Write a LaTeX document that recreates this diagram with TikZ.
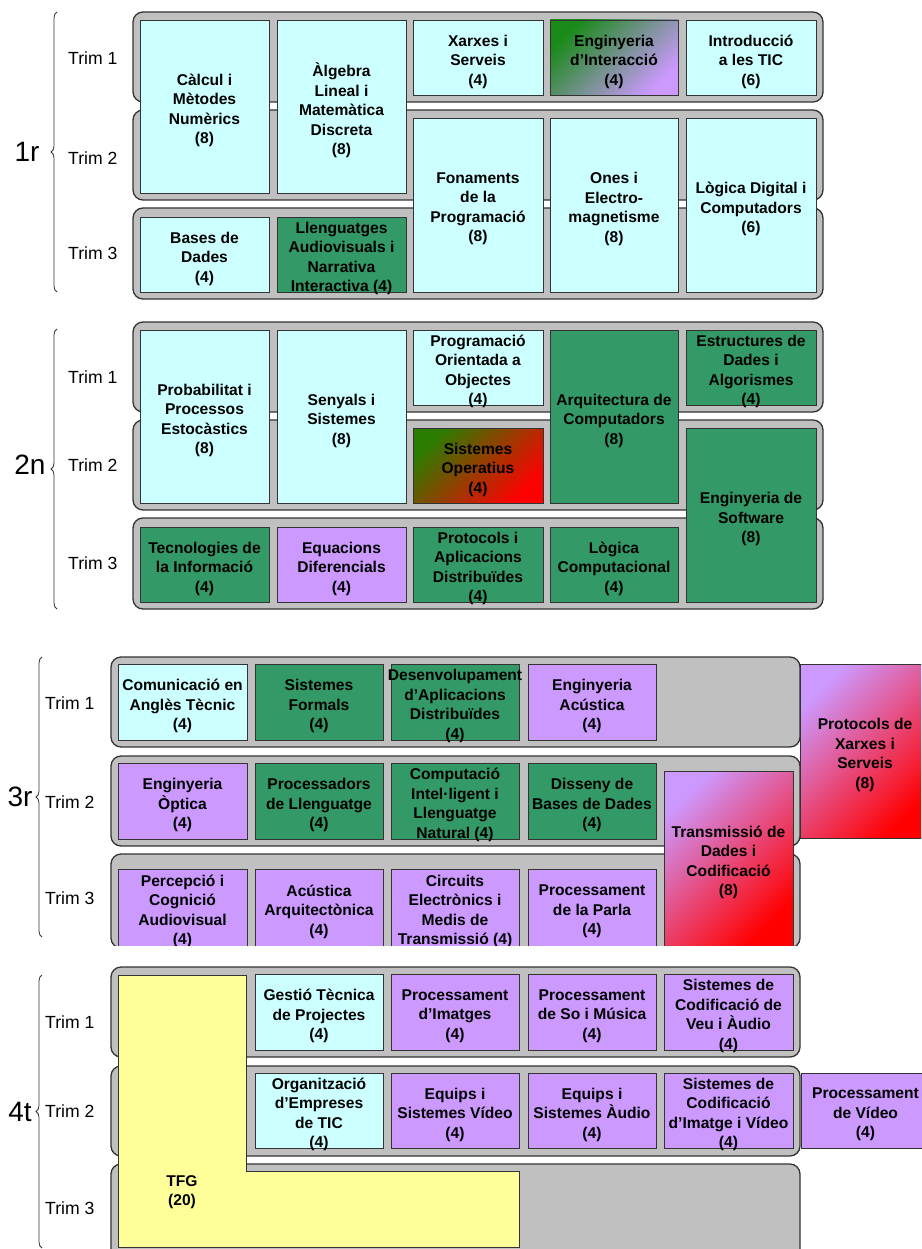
\documentclass[tikz,border=0pt]{standalone}
\usepackage{fontspec}
\setmainfont{Liberation Sans}
\usetikzlibrary{decorations.pathreplacing}
\definecolor{cyanbox}{HTML}{CCFFFF}
\definecolor{greenbox}{HTML}{339966}
\definecolor{purplebox}{HTML}{CC99FF}
\definecolor{yellowbox}{HTML}{FFFF99}
\definecolor{bandgray}{HTML}{C0C0C0}
\definecolor{edge}{HTML}{333333}
\definecolor{gradgreen}{HTML}{1A8A1A}
\definecolor{sogreen}{HTML}{2A7D00}
\definecolor{gradred}{HTML}{FF0000}
\tikzset{
 band/.style={draw=edge, line width=1.3pt, fill=bandgray, rounded corners=10pt},
 box/.style={draw=edge, line width=0.9pt, inner sep=0pt, outer sep=0pt, rectangle},
 cy/.style={fill=cyanbox}, gr/.style={fill=greenbox}, pu/.style={fill=purplebox},
 gp/.style={top color=gradgreen, bottom color=purplebox, shading angle=45},
 gro/.style={top color=sogreen, bottom color=gradred, shading angle=45},
 pr/.style={top color=purplebox, bottom color=gradred, shading angle=45},
 txt/.style={align=center, inner sep=0pt, font=\bfseries\fontsize{15.6}{19.5}\selectfont},
 trimlab/.style={anchor=west, inner sep=0pt, font=\fontsize{17.6}{20}\selectfont},
 yearlab/.style={inner sep=0pt, font=\fontsize{28}{30}\selectfont},
 yearbrace/.style={draw=edge, line width=0.8pt, decorate, decoration={brace, amplitude=6pt}},
}
\newcommand\course[7]{%
 \node[box,#6,minimum width={#4-#2},minimum height={#5-#3}] (#1) at ({(#2+#4)/2},{(#3+#5)/2}) {};
 \node[txt,yshift=-4pt] (#1-t) at (#1.center) {#7};}
\begin{document}
\begin{tikzpicture}[x=1pt,y=-1pt]
\useasboundingbox (0,0) rectangle (921,1249);
\fill[white] (0,0) rectangle (921,1249);

% ===== Year 1 =====
\node[yearlab] (y1) at (27,152) {1r};
\draw[yearbrace] (57,292) -- (57,12);
\node[trimlab] (y1t1) at (68,58) {Trim 1};
\node[trimlab] (y1t2) at (68,158) {Trim 2};
\node[trimlab] (y1t3) at (68,253) {Trim 3};
\draw[band] (133,12) rectangle (823,102);
\draw[band] (133,110) rectangle (823,200);
\draw[band] (133,208) rectangle (823,299);
\course{calc}{140}{20}{269}{193}{cy}{Càlcul i\\Mètodes\\Numèrics\\(8)}
\course{alg}{277}{20}{406}{193}{cy}{Àlgebra\\Lineal i\\Matemàtica\\Discreta\\(8)}
\course{xis}{413}{20}{543}{95}{cy}{Xarxes i\\Serveis\\(4)}
\course{eint}{550}{20}{678}{95}{gp}{Enginyeria\\d’Interacció\\(4)}
\course{itic}{686}{20}{816}{95}{cy}{Introducció\\a les TIC\\(6)}
\course{fon}{413}{118}{543}{292}{cy}{Fonaments\\de la\\Programació\\(8)}
\course{ones}{550}{118}{678}{292}{cy}{Ones i\\Electro-\\magnetisme\\(8)}
\course{ldc}{686}{118}{816}{292}{cy}{Lògica Digital i\\Computadors\\(6)}
\course{bd}{140}{217}{269}{292}{cy}{Bases de\\Dades\\(4)}
\course{llav}{277}{217}{406}{292}{gr}{Llenguatges\\Audiovisuals i\\Narrativa\\Interactiva (4)}

% ===== Year 2 =====
\node[yearlab] (y2) at (30,465) {2n};
\draw[yearbrace] (57,609) -- (57,329);
\node[trimlab] (y2t1) at (68,377) {Trim 1};
\node[trimlab] (y2t2) at (68,465) {Trim 2};
\node[trimlab] (y2t3) at (68,563) {Trim 3};
\draw[band] (133,322) rectangle (823,412);
\draw[band] (133,420) rectangle (823,510);
\draw[band] (133,518) rectangle (823,609);
\course{prob}{140}{330}{269}{503}{cy}{Probabilitat i\\Processos\\Estocàstics\\(8)}
\course{sis}{277}{330}{406}{503}{cy}{Senyals i\\Sistemes\\(8)}
\course{poo}{413}{330}{543}{405}{cy}{Programació\\Orientada a\\Objectes\\(4)}
\course{arq}{550}{330}{678}{503}{gr}{Arquitectura de\\Computadors\\(8)}
\course{eda}{686}{330}{816}{405}{gr}{Estructures de\\Dades i\\Algorismes\\(4)}
\course{so}{413}{428}{543}{503}{gro}{Sistemes\\Operatius\\(4)}
\course{esw}{686}{428}{816}{602}{gr}{Enginyeria de\\Software\\(8)}
\course{ti}{140}{527}{269}{602}{gr}{Tecnologies de\\la Informació\\(4)}
\course{eqd}{277}{527}{406}{602}{pu}{Equacions\\Diferencials\\(4)}
\course{pad}{413}{527}{543}{602}{gr}{Protocols i\\Aplicacions\\Distribuïdes\\(4)}
\course{lc}{550}{527}{678}{602}{gr}{Lògica\\Computacional\\(4)}

% ===== Year 3 =====
\node[yearlab] (y3) at (20,797) {3r};
\draw[yearbrace] (42,937) -- (42,657);
\node[trimlab] (y3t1) at (45,703) {Trim 1};
\node[trimlab] (y3t2) at (45,802) {Trim 2};
\node[trimlab] (y3t3) at (45,898) {Trim 3};
\begin{scope}
\clip (0,640) rectangle (921,945);
\draw[band] (111,657) rectangle (800,747);
\draw[band] (111,756) rectangle (800,846);
\draw[band] (111,854) rectangle (800,948);
\course{cat}{118}{664}{247}{740}{cy}{Comunicació en\\Anglès Tècnic\\(4)}
\course{sf}{255}{664}{383}{740}{gr}{Sistemes\\Formals\\(4)}
\course{dad}{391}{664}{519}{740}{gr}{Desenvolupament\\d’Aplicacions\\Distribuïdes\\(4)}
\course{eac}{528}{664}{656}{740}{pu}{Enginyeria\\Acústica\\(4)}
\course{pxs}{800}{664}{930}{838}{pr}{Protocols de\\Xarxes i\\Serveis\\(8)}
\course{eop}{118}{763}{247}{839}{pu}{Enginyeria\\Òptica\\(4)}
\course{pll}{255}{763}{383}{839}{gr}{Processadors\\de Llenguatge\\(4)}
\course{cil}{391}{763}{519}{839}{gr}{Computació\\Intel·ligent i\\Llenguatge\\Natural (4)}
\course{dbd}{528}{763}{656}{839}{gr}{Disseny de\\Bases de Dades\\(4)}
\course{tdc}{664}{771}{793}{946}{pr}{Transmissió de\\Dades i\\Codificació\\(8)}
\course{pca}{118}{869}{247}{946}{pu}{Percepció i\\Cognició\\Audiovisual\\(4)}
\course{aar}{255}{869}{383}{946}{pu}{Acústica\\Arquitectònica\\(4)}
\course{cem}{391}{869}{519}{946}{pu}{Circuits\\Electrònics i\\Medis de\\Transmissió (4)}
\course{ppa}{528}{869}{656}{946}{pu}{Processament\\de la Parla\\(4)}
\end{scope}

% ===== Year 4 =====
\node[yearlab] (y4) at (20,1112) {4t};
\draw[yearbrace] (42,1248) -- (42,975);
\node[trimlab] (y4t1) at (45,1022) {Trim 1};
\node[trimlab] (y4t2) at (45,1111) {Trim 2};
\node[trimlab] (y4t3) at (45,1208) {Trim 3};
\draw[band] (111,967) rectangle (800,1057);
\draw[band] (111,1066) rectangle (800,1156);
\draw[band] (111,1164) rectangle (800,1262);
\draw[draw=edge, line width=0.9pt, fill=yellowbox] (118,975) -- (246,975) -- (246,1171) -- (519,1171) -- (519,1247) -- (118,1247) -- cycle;
\node[txt] (tfg) at (182,1192) {TFG\\(20)};
\course{gtp}{255}{974}{383}{1050}{cy}{Gestió Tècnica\\de Projectes\\(4)}
\course{pim}{391}{974}{519}{1050}{pu}{Processament\\d’Imatges\\(4)}
\course{psm}{528}{974}{656}{1050}{pu}{Processament\\de So i Música\\(4)}
\course{scva}{664}{974}{793}{1050}{pu}{Sistemes de\\Codificació de\\Veu i Àudio\\(4)}
\course{oet}{255}{1073}{383}{1148}{cy}{Organització\\d’Empreses\\de TIC\\(4)}
\course{esv}{391}{1073}{519}{1148}{pu}{Equips i\\Sistemes Vídeo\\(4)}
\course{esa}{528}{1073}{656}{1148}{pu}{Equips i\\Sistemes Àudio\\(4)}
\course{sciv}{664}{1073}{793}{1148}{pu}{Sistemes de\\Codificació\\d’Imatge i Vídeo\\(4)}
\course{pvid}{801}{1073}{930}{1148}{pu}{Processament\\de Vídeo\\(4)}
\end{tikzpicture}
\end{document}
